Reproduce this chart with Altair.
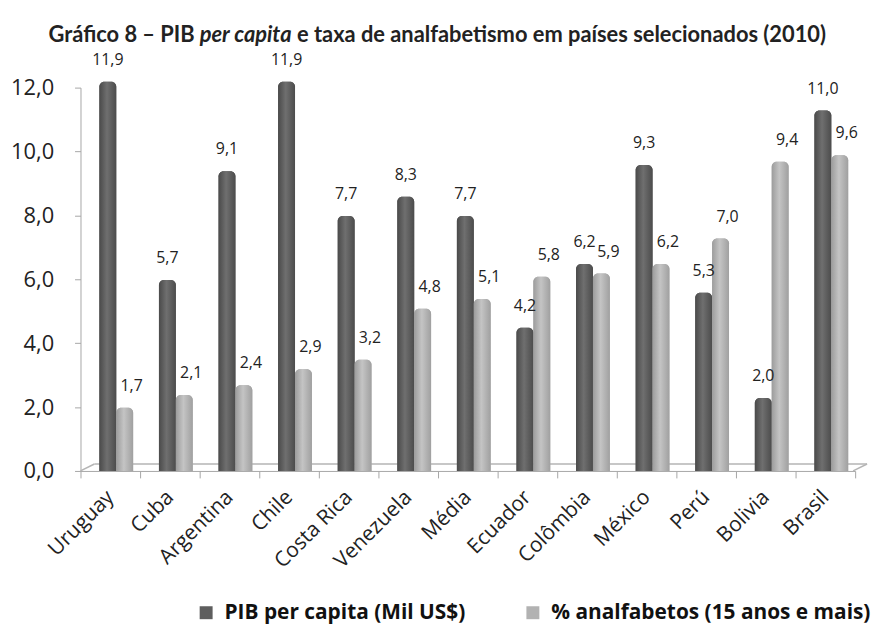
import altair as alt
import pandas as pd

countries = ["Uruguay", "Cuba", "Argentina", "Chile", "Costa Rica", "Venezuela", "Média",
             "Ecuador", "Colômbia", "México", "Perú", "Bolivia", "Brasil"]
pib = [11.9, 5.7, 9.1, 11.9, 7.7, 8.3, 7.7, 4.2, 6.2, 9.3, 5.3, 2.0, 11.0]
analf = [1.7, 2.1, 2.4, 2.9, 3.2, 4.8, 5.1, 5.8, 5.9, 6.2, 7.0, 9.4, 9.6]
series = ["PIB per capita (Mil US$)", "% analfabetos (15 anos e mais)"]
y_ticks = [0, 2, 4, 6, 8, 10, 12]
title_parts = ["Gráfico 8 – PIB", "per capita", "e taxa de analfabetismo em países selecionados (2010)"]

rows = []
for c, p, a in zip(countries, pib, analf):
    rows.append({"country": c, "series": series[0], "value": p})
    rows.append({"country": c, "series": series[1], "value": a})
df = pd.DataFrame(rows)
df["label"] = df["value"].map(lambda v: f"{v:.1f}".replace(".", ","))

W, H = 780, 386
FONT = "Open Sans"
TFONT = "Lato"
DEPTH = 0.28  # 3-D depth of the floor, in axis units

x_enc = alt.X("country:N", sort=countries,
              scale=alt.Scale(paddingInner=0, paddingOuter=0),
              axis=alt.Axis(title=None, labelAngle=-45, labelAlign="right", labelBaseline="middle",
                            tickBand="extent", labelFontSize=21,
                            labelFont=FONT, labelColor="#222222", domainColor="#a6a6a6",
                            tickColor="#a6a6a6", tickSize=7, labelPadding=16))
xo_enc = alt.XOffset("series:N", sort=series,
                     scale=alt.Scale(range=[19, 53], paddingInner=0, paddingOuter=0))
y_enc = alt.Y("vtop:Q", scale=alt.Scale(domain=[0, 12], nice=False),
              axis=alt.Axis(title=None, values=y_ticks, grid=False,
                            labelExpr="replace(format(datum.value, '.1f'), '.', ',')",
                            labelFontSize=22, labelFont=FONT, labelColor="#222222",
                            domainColor="#a6a6a6", tickColor="#a6a6a6", tickSize=6,
                            labelPadding=21))
y2_enc = alt.Y2(datum=0)

base = alt.Chart(df).transform_calculate(vtop=f"datum.value + {DEPTH}")

legend_bars = base.mark_bar(cornerRadiusTopLeft=5, cornerRadiusTopRight=5).encode(
    x=x_enc, xOffset=xo_enc, y=y_enc, y2=y2_enc,
    color=alt.Color("series:N", sort=series,
                    scale=alt.Scale(domain=series, range=["#5e5e5e", "#b2b2b2"]),
                    legend=alt.Legend(title=None, orient="none", legendX=116, legendY=518,
                                      direction="horizontal", symbolType="square",
                                      symbolSize=170, symbolStrokeWidth=0,
                                      labelFont=FONT, labelFontSize=21, labelFontWeight="bold",
                                      labelColor="#111111", columnPadding=57, labelOffset=8,
                                      labelLimit=400))
)

dark_grad = alt.Gradient(gradient="linear", x1=0, x2=1, y1=0, y2=0, stops=[
    alt.GradientStop(color="#4a4a4a", offset=0),
    alt.GradientStop(color="#6f6f6f", offset=0.45),
    alt.GradientStop(color="#4c4c4c", offset=1)])
light_grad = alt.Gradient(gradient="linear", x1=0, x2=1, y1=0, y2=0, stops=[
    alt.GradientStop(color="#9c9c9c", offset=0),
    alt.GradientStop(color="#c4c4c4", offset=0.45),
    alt.GradientStop(color="#a0a0a0", offset=1)])

shade_bars = base.mark_bar(cornerRadiusTopLeft=5, cornerRadiusTopRight=5).encode(
    x=x_enc, xOffset=xo_enc, y=y_enc, y2=y2_enc,
    fill=alt.condition(alt.datum.series == series[0], alt.value(dark_grad), alt.value(light_grad))
)

labels_dark = base.transform_filter(alt.datum.series == series[0]).mark_text(
    baseline="bottom", dy=-14, dx=0, fontSize=16, font=FONT, color="#222222").encode(
    x=x_enc, xOffset=xo_enc, y=y_enc, text="label:N")
labels_light = base.transform_filter(alt.datum.series == series[1]).mark_text(
    baseline="bottom", dy=-14, dx=7, fontSize=16, font=FONT, color="#222222").encode(
    x=x_enc, xOffset=xo_enc, y=y_enc, text="label:N")

one = pd.DataFrame({"a": [0]})
floor_back = alt.Chart(one).mark_rule(color="#b5b5b5", strokeWidth=1.5).encode(
    x=alt.value(14), x2=alt.value(W + 12), y=alt.value(H - 7))
floor_left = alt.Chart(one).mark_rule(color="#b5b5b5", strokeWidth=1.5).encode(
    x=alt.value(0), x2=alt.value(14), y=alt.value(H), y2=alt.value(H - 7))
floor_right = alt.Chart(one).mark_rule(color="#b5b5b5", strokeWidth=1.5).encode(
    x=alt.value(W - 2), x2=alt.value(W + 12), y=alt.value(H), y2=alt.value(H - 7))

TY = -53
TS = 22
t1 = alt.Chart(one).mark_text(text=title_parts[0], font=TFONT, fontSize=TS, fontWeight="bold",
                              color="#222222", align="right", baseline="middle").encode(
    x=alt.value(115), y=alt.value(TY))
t2 = alt.Chart(one).mark_text(text=title_parts[1], font=TFONT, fontSize=TS, fontWeight="bold",
                              fontStyle="italic", color="#222222", align="left",
                              baseline="middle").encode(
    x=alt.value(120), y=alt.value(TY))
t3 = alt.Chart(one).mark_text(text=title_parts[2], font=TFONT, fontSize=TS, fontWeight="bold",
                              color="#222222", align="left", baseline="middle").encode(
    x=alt.value(218), y=alt.value(TY))

chart = alt.layer(floor_back, floor_left, floor_right, legend_bars, shade_bars,
                  labels_dark, labels_light, t1, t2, t3).properties(
    width=W, height=H,
    padding={"left": 2, "top": 14, "right": 5, "bottom": 5},
).configure_view(stroke=None)

chart.save("out.html", embed_options={"renderer": "svg", "actions": False})
